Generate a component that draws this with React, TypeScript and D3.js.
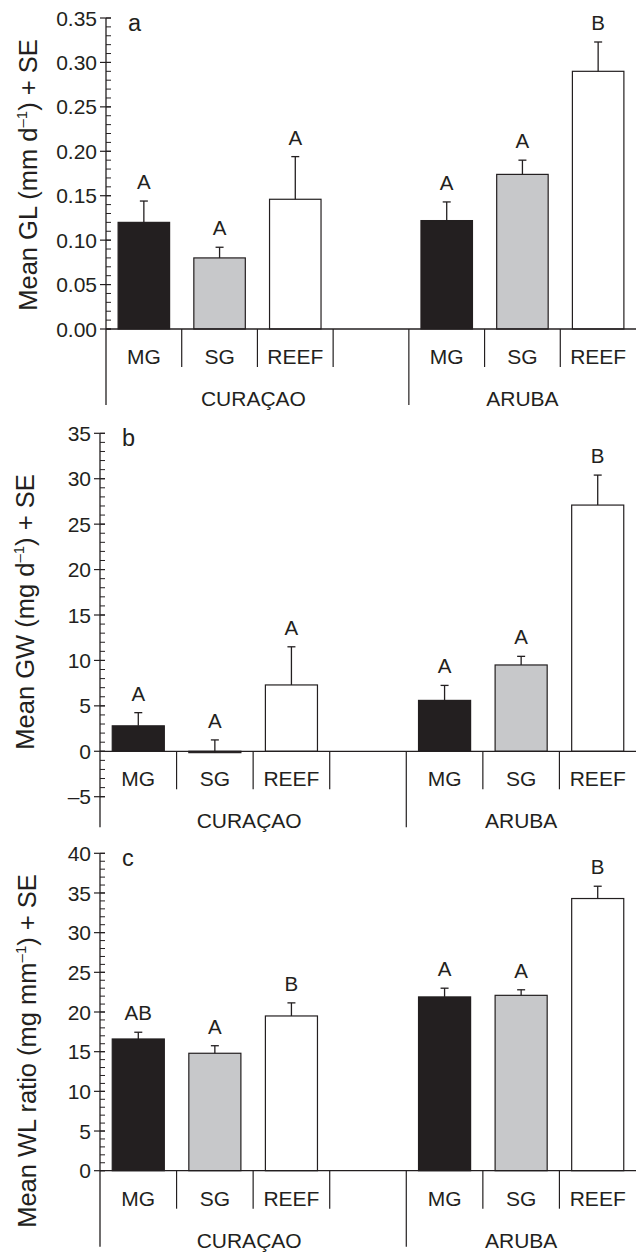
import React, { useEffect, useRef } from "react";
import * as d3 from "d3";

// groups and habitats
const sites = ["CURAÇAO", "ARUBA"];
const habitats = ["MG", "SG", "REEF"];

// panel a: growth in length (mm d-1)
const glMean = [0.12, 0.08, 0.146, 0.122, 0.174, 0.29];
const glSE = [0.024, 0.012, 0.048, 0.021, 0.016, 0.033];
const glLetters = ["A", "A", "A", "A", "A", "B"];
const glTicks = [0, 0.05, 0.1, 0.15, 0.2, 0.25, 0.3, 0.35];

// panel b: growth in weight (mg d-1)
const gwMean = [2.8, -0.15, 7.3, 5.6, 9.5, 27.1];
const gwSE = [1.45, 1.4, 4.2, 1.65, 0.95, 3.3];
const gwLetters = ["A", "A", "A", "A", "A", "B"];
const gwTicks = [-5, 0, 5, 10, 15, 20, 25, 30, 35];

// panel c: weight/length ratio (mg mm-1)
const wlMean = [16.6, 14.8, 19.5, 21.9, 22.1, 34.3];
const wlSE = [0.85, 0.95, 1.65, 1.1, 0.7, 1.55];
const wlLetters = ["AB", "A", "B", "A", "A", "B"];
const wlTicks = [0, 5, 10, 15, 20, 25, 30, 35, 40];

const W = 636;
const H = 1254;
const ink = "#231f20";
const font = "'Liberation Sans', Arial, Helvetica, sans-serif";
const fills: Record<string, string> = { MG: "#231f20", SG: "#c7c8ca", REEF: "#ffffff" };

const barKeys = sites.flatMap(s => habitats.map(h => s + "|" + h));
const slots = [...barKeys.slice(0, 3), "gap", ...barKeys.slice(3)];

const panels = [
  {
    letter: "a", title: "Mean GL (mm d", unit: ")", mean: glMean, se: glSE, marks: glLetters,
    ticks: glTicks, minorStep: 0.01, fmt: d3.format(".2f"),
    axisX: 106, range: [329, 18], titleX: 37, titleY: 175,
  },
  {
    letter: "b", title: "Mean GW (mg d", unit: ")", mean: gwMean, se: gwSE, marks: gwLetters,
    ticks: gwTicks, minorStep: 1, fmt: (d: number) => (d < 0 ? "–" + Math.abs(d) : String(d)),
    axisX: 100, range: [796.7, 433.3], titleX: 34, titleY: 612,
  },
  {
    letter: "c", title: "Mean WL ratio (mg mm", unit: ")", mean: wlMean, se: wlSE, marks: wlLetters,
    ticks: wlTicks, minorStep: 1, fmt: (d: number) => String(d),
    axisX: 100, range: [1170.7, 853.3], titleX: 36, titleY: 1051,
  },
];

function drawPanel(svg: any, p: any) {
  const lo = d3.min(p.ticks) as number;
  const hi = d3.max(p.ticks) as number;
  const y = d3.scaleLinear().domain([lo, hi]).range(p.range);
  const x = d3.scaleBand().domain(slots).range([p.axisX, W]).paddingInner(0.32).paddingOuter(0.16);
  const step = x.step();
  const y0 = y(0);
  const g = svg.append("g").attr("font-family", font).attr("fill", ink);

  const data = barKeys.map((k, i) => ({
    key: k, hab: k.split("|")[1], v: p.mean[i], se: p.se[i], mark: p.marks[i],
  }));

  // bars
  g.selectAll("rect.bar").data(data).join("rect")
    .attr("class", "bar")
    .attr("x", d => x(d.key))
    .attr("width", x.bandwidth())
    .attr("y", d => y(Math.max(d.v, 0)))
    .attr("height", d => Math.abs(y(d.v) - y0))
    .attr("fill", d => fills[d.hab])
    .attr("stroke", ink).attr("stroke-width", 1.2);

  // error bars
  const cx = (d: any) => (x(d.key) as number) + x.bandwidth() / 2;
  g.selectAll("line.err").data(data).join("line")
    .attr("class", "err")
    .attr("x1", cx).attr("x2", cx)
    .attr("y1", d => y(d.v)).attr("y2", d => y(d.v + d.se))
    .attr("stroke", ink).attr("stroke-width", 1.3);
  g.selectAll("line.cap").data(data).join("line")
    .attr("class", "cap")
    .attr("x1", d => cx(d) - 4).attr("x2", d => cx(d) + 4)
    .attr("y1", d => y(d.v + d.se)).attr("y2", d => y(d.v + d.se))
    .attr("stroke", ink).attr("stroke-width", 1.3);

  // significance letters
  g.selectAll("text.mark").data(data).join("text")
    .attr("class", "mark")
    .attr("x", cx).attr("y", d => y(d.v + d.se) - 12)
    .attr("text-anchor", "middle").attr("font-size", 20.5)
    .text(d => d.mark);

  // baseline
  g.append("line")
    .attr("x1", p.axisX).attr("x2", W).attr("y1", y0).attr("y2", y0)
    .attr("stroke", ink).attr("stroke-width", 1.3);

  // y axis with minor ticks
  g.append("line")
    .attr("x1", p.axisX).attr("x2", p.axisX).attr("y1", y(hi)).attr("y2", y0 + 76)
    .attr("stroke", ink).attr("stroke-width", 1.3);
  const minor = d3.range(Math.round((hi - lo) / p.minorStep) + 1).map(i => lo + i * p.minorStep);
  g.selectAll("line.minor").data(minor).join("line")
    .attr("class", "minor")
    .attr("x1", p.axisX).attr("x2", p.axisX + 5)
    .attr("y1", d => y(d)).attr("y2", d => y(d))
    .attr("stroke", ink).attr("stroke-width", 1);
  g.selectAll("line.major").data(p.ticks).join("line")
    .attr("class", "major")
    .attr("x1", p.axisX - 6).attr("x2", p.axisX + 5)
    .attr("y1", d => y(d)).attr("y2", d => y(d))
    .attr("stroke", ink).attr("stroke-width", 1.2);
  g.selectAll("text.tick").data(p.ticks).join("text")
    .attr("class", "tick")
    .attr("x", p.axisX - 9).attr("y", d => y(d)).attr("dy", "0.36em")
    .attr("text-anchor", "end").attr("font-size", 21)
    .text(d => p.fmt(d));

  // separators between categories
  slots.forEach((s, i) => {
    if (i === 0) return;
    const bx = (x(s) as number) - step * 0.16;
    const long = s === barKeys[3];
    g.append("line")
      .attr("x1", bx).attr("x2", bx).attr("y1", y0).attr("y2", y0 + (long ? 76 : 38))
      .attr("stroke", ink).attr("stroke-width", 1.2);
  });

  // habitat labels
  g.selectAll("text.cat").data(data).join("text")
    .attr("class", "cat")
    .attr("x", cx).attr("y", y0 + 35)
    .attr("text-anchor", "middle").attr("font-size", 21)
    .text(d => d.hab);

  // site labels
  const split = (x(barKeys[3]) as number) - step * 0.16;
  g.selectAll("text.site").data(sites).join("text")
    .attr("class", "site")
    .attr("x", (d, i) => (i === 0 ? (p.axisX + split) / 2 - 4 : (split + W) / 2))
    .attr("y", y0 + 77)
    .attr("text-anchor", "middle").attr("font-size", 21)
    .text(d => d);

  // panel letter
  g.append("text")
    .attr("x", p.axisX + 22).attr("y", y(hi) + 13)
    .attr("font-size", 23.5)
    .text(p.letter);

  // y title with superscript
  const t = g.append("text")
    .attr("transform", `translate(${p.titleX},${p.titleY}) rotate(-90)`)
    .attr("text-anchor", "middle").attr("font-size", 25.5);
  t.append("tspan").text(p.title);
  t.append("tspan").attr("font-size", 15).attr("dy", -10).text("–1");
  t.append("tspan").attr("dy", 10).text(p.unit + " + SE");
}

export default function App() {
  const ref = useRef<SVGSVGElement>(null);

  useEffect(() => {
    const svg = d3.select(ref.current);
    svg.selectAll("*").remove();
    panels.forEach(p => drawPanel(svg, p));
  }, []);

  return (
    <svg
      ref={ref}
      width={W}
      height={H}
      viewBox={`0 0 ${W} ${H}`}
      style={{ position: "absolute", left: 0, top: 0, background: "#fff" }}
    />
  );
}
